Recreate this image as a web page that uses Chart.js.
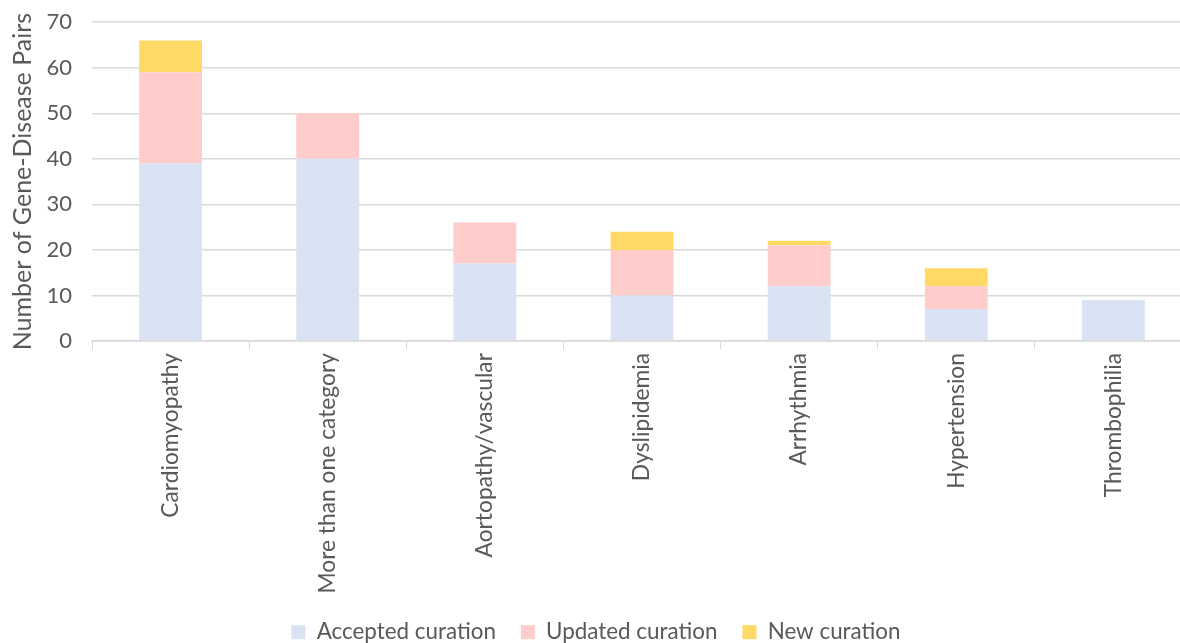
<!DOCTYPE html>
<html lang="en">
  <head>
    <meta charset="UTF-8" />
    <title>Gene-Disease Pairs</title>
    <script src="https://cdn.jsdelivr.net/npm/chart.js"></script>
    <style>
      html, body { margin: 0; padding: 0; background: #fff; overflow: hidden; }
      .chart-container { position: relative; width: 1192px; height: 643px; }
    </style>
  </head>
  <body>
    <div class="chart-container">
      <canvas id="grafico"></canvas>
    </div>

    <script>
      // dados
      const categorias = [
        "Cardiomyopathy",
        "More than one category",
        "Aortopathy/vascular",
        "Dyslipidemia",
        "Arrhythmia",
        "Hypertension",
        "Thrombophilia",
      ];
      const aceitas = [39, 40, 17, 10, 12, 7, 9];
      const atualizadas = [20, 10, 9, 10, 9, 5, 0];
      const novas = [7, 0, 0, 4, 1, 4, 0];
      const ticksY = [0, 10, 20, 30, 40, 50, 60, 70];

      const fonte = "Lato, 'Open Sans', sans-serif";
      const cinza = "#595959";

      // legenda baixa: espaço horizontal largo, altura pequena
      const legendaBaixa = {
        id: "legendaBaixa",
        beforeInit(chart) {
          const legenda = chart.legend;
          const fitOriginal = legenda.fit;
          legenda.fit = function () {
            fitOriginal.call(this);
            this.height = 47;
          };
        },
      };

      const ctx = document.getElementById("grafico").getContext("2d");
      new Chart(ctx, {
        type: "bar",
        data: {
          labels: categorias,
          datasets: [
            { label: "Accepted curation", data: aceitas, backgroundColor: "#dae3f3" },
            { label: "Updated curation", data: atualizadas, backgroundColor: "#ffcccc" },
            { label: "New curation", data: novas, backgroundColor: "#ffd966" },
          ],
        },
        options: {
          responsive: true,
          maintainAspectRatio: false,
          animation: false,
          layout: { padding: 0 },
          datasets: { bar: { categoryPercentage: 0.4, barPercentage: 1 } },
          scales: {
            x: {
              stacked: true,
              afterFit: (scale) => {
                scale.height = 255;
              },
              grid: {
                offset: true,
                drawOnChartArea: false,
                color: "#d9d9d9",
                tickLength: 8,
              },
              border: { color: "#d9d9d9", width: 1.5 },
              ticks: {
                color: cinza,
                minRotation: 90,
                maxRotation: 90,
                autoSkip: false,
                padding: 4,
                font: { size: 22.8, family: fonte },
              },
            },
            y: {
              stacked: true,
              min: 0,
              max: 70,
              afterBuildTicks: (axis) => {
                axis.ticks = ticksY.map((v) => ({ value: v }));
              },
              afterFit: (scale) => {
                scale.width = 92;
              },
              grid: { color: "#d9d9d9", lineWidth: 1.5, drawTicks: false },
              border: { display: false },
              ticks: {
                color: cinza,
                padding: 20,
                font: { size: 22, family: fonte, lineHeight: 0.2 },
              },
              title: {
                display: true,
                text: "Number of Gene-Disease Pairs",
                color: cinza,
                padding: { top: 8, bottom: 0 },
                font: { size: 25, family: fonte },
              },
            },
          },
          plugins: {
            legend: {
              position: "bottom",
              labels: {
                color: cinza,
                boxWidth: 14,
                boxHeight: 14,
                padding: 25,
                font: { size: 22.4, family: fonte },
              },
            },
            tooltip: { enabled: false },
          },
        },
        plugins: [legendaBaixa],
      });
    </script>
  </body>
</html>
